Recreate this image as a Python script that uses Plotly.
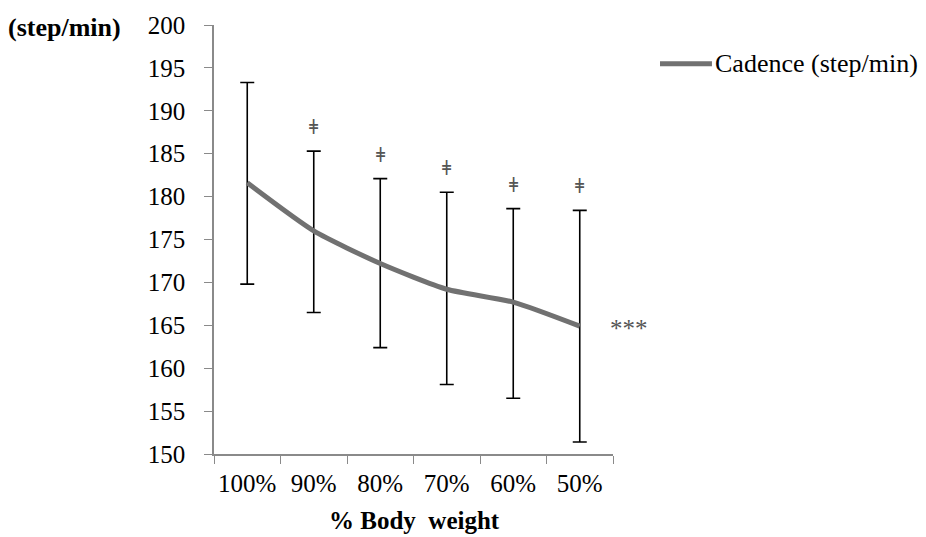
import plotly.graph_objects as go

categories = ["100%", "90%", "80%", "70%", "60%", "50%"]
cadence_mean = [181.6, 176.0, 172.2, 169.2, 167.7, 164.9]
err_plus = [11.7, 9.3, 9.9, 11.3, 10.9, 13.5]
err_minus = [11.8, 9.5, 9.8, 11.1, 11.2, 13.5]
sig_marks = ["", "ǂ", "ǂ", "ǂ", "ǂ", "ǂ"]
y_ticks = [150, 155, 160, 165, 170, 175, 180, 185, 190, 195, 200]
series_name = "Cadence (step/min)"

FONT = "Liberation Serif"
LINE_COLOR = "#717171"

fig = go.Figure()
fig.add_trace(go.Scatter(
    x=categories, y=cadence_mean, mode="lines",
    name=series_name, showlegend=False,
    line=dict(color=LINE_COLOR, width=5, shape="spline", smoothing=0.6),
    error_y=dict(type="data", array=err_plus, arrayminus=err_minus,
                 color="black", thickness=1.6, width=7, visible=True),
))

annotations = []
for c, m, p, s in zip(categories, cadence_mean, err_plus, sig_marks):
    if s:
        annotations.append(dict(x=c, y=m + p, text=s, showarrow=False,
                                yshift=24, font=dict(family="DejaVu Serif", size=20, color="#555555")))
annotations.append(dict(x=categories[-1], y=cadence_mean[-1], text="***", showarrow=False,
                        xshift=49, yshift=-2, font=dict(family=FONT, size=25, color="#555555")))
annotations.append(dict(x=0, xref="paper", xshift=-208, xanchor="left", y=200, yref="y",
                        yshift=-2, text="<b>(step/min)</b>", showarrow=False,
                        font=dict(family=FONT, size=26, color="black")))
annotations.append(dict(x=0.5, xref="paper", y=0, yref="paper", yshift=-66, yanchor="middle",
                        xshift=1, text="<b>% Body  weight</b>", showarrow=False,
                        font=dict(family=FONT, size=25, color="black")))
# legend (drawn manually to match the long line sample)
annotations.append(dict(x=1.25, xref="paper", xanchor="left", y=0.9095, yref="paper",
                        yanchor="middle", text=series_name, showarrow=False,
                        font=dict(family=FONT, size=26, color="black")))

fig.add_shape(type="line", xref="paper", yref="paper", x0=1.1178, x1=1.248, y0=0.9095, y1=0.9095,
              line=dict(color=LINE_COLOR, width=5))

fig.update_layout(
    width=926, height=537,
    margin=dict(l=214, r=313, t=23, b=83),
    paper_bgcolor="white", plot_bgcolor="white",
    font=dict(family=FONT, size=20, color="black"),
    showlegend=False,
    annotations=annotations,
    xaxis=dict(type="category", range=[-0.5, 5.5], showgrid=False, showline=True,
               linecolor="#8a8a8a", linewidth=1.5, ticks="outside", tickson="boundaries",
               ticklen=8, tickcolor="#8a8a8a", ticklabelstandoff=6, tickangle=0,
               tickfont=dict(family=FONT, size=25, color="black")),
    yaxis=dict(range=[150, 200], tickvals=y_ticks, showgrid=False, showline=True,
               linecolor="#8a8a8a", linewidth=1.5, ticks="outside", ticklen=8,
               tickcolor="#8a8a8a", zeroline=False, ticklabelstandoff=14,
               tickfont=dict(family=FONT, size=25, color="black")),
)

fig.write_html("out.html")
